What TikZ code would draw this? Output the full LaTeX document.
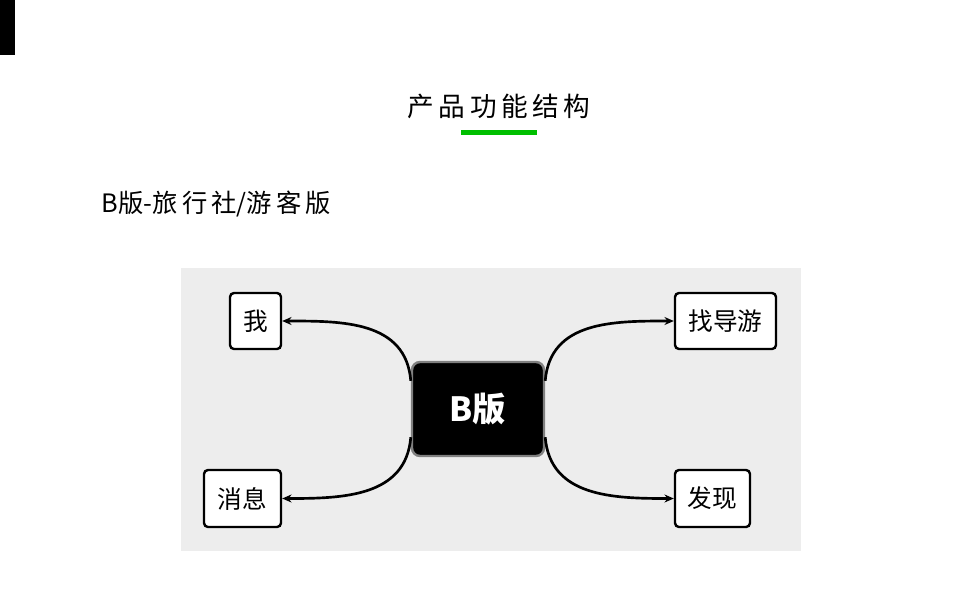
\documentclass[tikz,border=0pt]{standalone}
\usepackage{fontspec}
\setmainfont{Noto Sans CJK SC}
\usetikzlibrary{arrows.meta}
\begin{document}
\begin{tikzpicture}[x=0.75pt,y=-0.75pt,
  leaf/.style={draw=black,line width=1.8pt,rounded corners=3pt,fill=white,inner sep=0pt,font=\fontsize{18.5}{20}\selectfont},
  conn/.style={line width=2pt,-{Stealth[length=7pt,width=6pt]}}]
\useasboundingbox (0,0) rectangle (961,601);
\fill[white] (0,0) rectangle (961,601);
\fill[black] (0,0) rectangle (15,55);
\node (title) at (499,106) {\fontsize{20}{24}\selectfont 产\,品\,功\,能\,结\,构};
\fill[green!75!black] (461,130) rectangle (537,135);
\node[anchor=west] (sub) at (97,204) {\fontsize{19}{22}\selectfont B版-旅\,行\,社/游\,客\,版};
\fill[gray!14] (181,268) rectangle (801,551);
\node[draw=gray,line width=1.8pt,fill=black,rounded corners=6pt,minimum width=99pt,minimum height=70.5pt,text=white,font=\fontsize{25}{28}\selectfont\bfseries] (c) at (478,409) {B版};
\node[leaf,minimum width=38.25pt,minimum height=42pt] (wo) at (255.5,321) {我};
\node[leaf,minimum width=75.75pt,minimum height=42pt] (zd) at (725.5,321) {找导游};
\node[leaf,minimum width=57.75pt,minimum height=42.75pt] (xx) at (242.5,498.5) {消息};
\node[leaf,minimum width=56.25pt,minimum height=42.75pt] (fx) at (712.5,498.5) {发现};
\draw[conn] ([yshift=-15pt]c.north west) .. controls +(-5,-60) and +(60,0) .. (wo.east);
\draw[conn] ([yshift=15pt]c.south west) .. controls +(-5,60) and +(60,0) .. (xx.east);
\draw[conn] ([yshift=-15pt]c.north east) .. controls +(5,-60) and +(-60,0) .. (zd.west);
\draw[conn] ([yshift=15pt]c.south east) .. controls +(5,60) and +(-60,0) .. (fx.west);
\end{tikzpicture}
\end{document}
